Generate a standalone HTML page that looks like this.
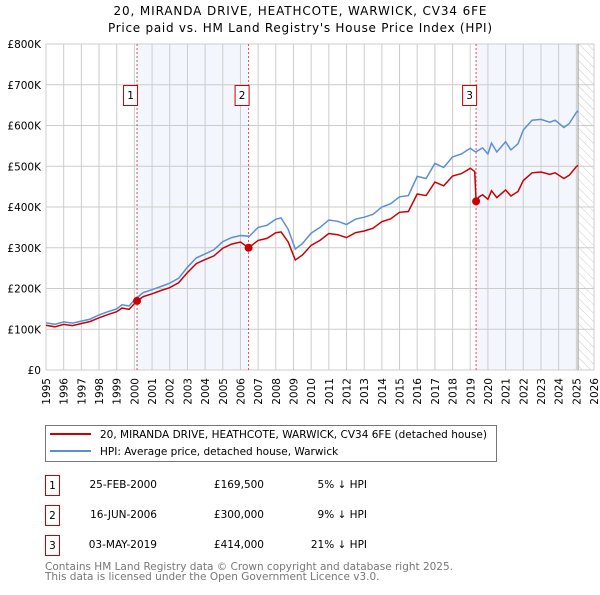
<!DOCTYPE html>
<html><head><meta charset="utf-8"><style>
body{margin:0;background:#fff;}
svg{font-family:"DejaVu Sans","Liberation Sans",sans-serif;}
</style></head><body>
<svg id="chart" width="600" height="590" xmlns="http://www.w3.org/2000/svg">
<defs><pattern id="hatch" width="6" height="6" patternUnits="userSpaceOnUse" patternTransform="rotate(-45)"><line x1="0" y1="0" x2="0" y2="6" stroke="#ccc" stroke-width="1"/></pattern></defs>
<text x="300" y="15" text-anchor="middle" font-size="12" textLength="373">20, MIRANDA DRIVE, HEATHCOTE, WARWICK, CV34 6FE</text>
<text x="300" y="32" text-anchor="middle" font-size="12" textLength="384">Price paid vs. HM Land Registry's House Price Index (HPI)</text>
<g id="plot"></g>
<rect x="45.5" y="425.5" width="451" height="36" fill="#fff" stroke="#777"/>
<line x1="50" y1="434" x2="91" y2="434" stroke="#cc0000" stroke-width="2"/>
<text x="100" y="438" font-size="10.5" textLength="387">20, MIRANDA DRIVE, HEATHCOTE, WARWICK, CV34 6FE (detached house)</text>
<line x1="50" y1="451" x2="91" y2="451" stroke="#5b8fd4" stroke-width="2"/>
<text x="100" y="455" font-size="10.5">HPI: Average price, detached house, Warwick</text>
<g font-size="10.5">
<rect x="45.5" y="475.5" width="14" height="20" fill="none" stroke="#cc0000"/><text x="52.5" y="489" text-anchor="middle">1</text>
<text x="157" y="488" text-anchor="end">25-FEB-2000</text><text x="264" y="488" text-anchor="end">£169,500</text><text x="367" y="488" text-anchor="end">5% ↓ HPI</text>
<rect x="45.5" y="505.5" width="14" height="20" fill="none" stroke="#cc0000"/><text x="52.5" y="519" text-anchor="middle">2</text>
<text x="157" y="518" text-anchor="end">16-JUN-2006</text><text x="264" y="518" text-anchor="end">£300,000</text><text x="367" y="518" text-anchor="end">9% ↓ HPI</text>
<rect x="45.5" y="535.5" width="14" height="20" fill="none" stroke="#cc0000"/><text x="52.5" y="549" text-anchor="middle">3</text>
<text x="157" y="548" text-anchor="end">03-MAY-2019</text><text x="264" y="548" text-anchor="end">£414,000</text><text x="367" y="548" text-anchor="end">21% ↓ HPI</text>
</g>
<text x="45" y="570" font-size="10.5" fill="#777" textLength="408">Contains HM Land Registry data © Crown copyright and database right 2025.</text>
<text x="45" y="580" font-size="10.5" fill="#777">This data is licensed under the Open Government Licence v3.0.</text>
</svg>
<script>
const yTicks=[0,100,200,300,400,500,600,700,800];
const yTickLabels=["£0","£100K","£200K","£300K","£400K","£500K","£600K","£700K","£800K"];
const xYears=[1995,1996,1997,1998,1999,2000,2001,2002,2003,2004,2005,2006,2007,2008,2009,2010,2011,2012,2013,2014,2015,2016,2017,2018,2019,2020,2021,2022,2023,2024,2025,2026];
const saleDates=[2000.15,2006.46,2019.33];
const salePrices=[169.5,300,414];
const saleLabels=["1","2","3"];
const hpiT=[1995,1995.5,1996,1996.5,1997,1997.5,1998,1998.5,1999,1999.3,1999.7,2000,2000.5,2001,2001.5,2002,2002.5,2003,2003.5,2004,2004.5,2005,2005.5,2006,2006.5,2007,2007.5,2008,2008.3,2008.7,2009.1,2009.5,2010,2010.5,2011,2011.5,2012,2012.5,2013,2013.5,2014,2014.5,2015,2015.5,2016,2016.5,2017,2017.5,2018,2018.5,2019,2019.3,2019.7,2020,2020.2,2020.5,2021,2021.3,2021.7,2022,2022.5,2023,2023.5,2023.8,2024.3,2024.6,2025,2025.1];
const hpiV=[116,112,118,115,120,125,135,143,150,160,157,172,190,197,205,213,225,252,275,285,295,315,325,330,328,350,355,370,373,345,297,310,336,350,368,365,357,370,375,382,400,408,425,428,475,470,507,497,523,530,544,535,545,530,557,535,560,540,555,589,613,615,608,613,595,605,632,636];
const propT=[1995,1995.5,1996,1996.5,1997,1997.5,1998,1998.5,1999,1999.3,1999.7,2000,2000.15,2000.5,2001,2001.5,2002,2002.5,2003,2003.5,2004,2004.5,2005,2005.5,2006,2006.46,2007,2007.5,2008,2008.3,2008.7,2009.1,2009.5,2010,2010.5,2011,2011.5,2012,2012.5,2013,2013.5,2014,2014.5,2015,2015.5,2016,2016.5,2017,2017.5,2018,2018.5,2019,2019.25,2019.33,2019.5,2019.7,2020,2020.2,2020.5,2021,2021.3,2021.7,2022,2022.5,2023,2023.5,2023.8,2024.3,2024.6,2025,2025.1];
const propV=[110,106,112,109,114,119,128,136,143,152,149,163,169.5,180,187,195,202,214,239,261,271,280,299,309,314,300,318,323,337,339,314,270,282,306,318,335,332,325,337,341,348,364,371,387,389,432,428,461,452,476,482,495,487,414,425,430,419,440,423,442,427,438,465,484,486,480,484,470,478,499,502];
const X0=46,X1=594,Y0=370,Y1=44;
const xs=t=>X0+(t-1995)/(2026-1995)*(X1-X0);
const ys=v=>Y0-v/800*(Y0-Y1);
const NS="http://www.w3.org/2000/svg";
const g=document.getElementById('plot');
function mk(tag,attrs){const e=document.createElementNS(NS,tag);for(const k in attrs)e.setAttribute(k,attrs[k]);g.appendChild(e);return e;}
let e;
e=mk('rect',{x:xs(saleDates[0]),y:Y1,width:xs(saleDates[1])-xs(saleDates[0]),height:Y0-Y1,fill:'#eef3fc',opacity:0.7});


e=mk('rect',{x:xs(saleDates[2]),y:Y1,width:xs(2025.1)-xs(saleDates[2]),height:Y0-Y1,fill:'#eef3fc',opacity:0.7});


e=mk('rect',{x:xs(2025.1),y:Y1,width:X1-xs(2025.1),height:Y0-Y1,fill:'url(#hatch)'});


xYears.forEach(y=>{e=mk('line',{x1:xs(y),x2:xs(y),y1:Y1,y2:Y0,stroke:'#ccc','stroke-width':1});


e=mk('text',{x:xs(y)+4,y:Y0+8,'font-size':10.5,'text-anchor':'end',transform:`rotate(-90 ${xs(y)+4} ${Y0+8})`});e.textContent=y;

});
yTicks.forEach((v,i)=>{e=mk('line',{x1:X0,x2:X1,y1:ys(v),y2:ys(v),stroke:'#ccc','stroke-width':1});


e=mk('text',{x:X0-5,y:ys(v)+4,'font-size':10.5,'text-anchor':'end'});e.textContent=yTickLabels[i];

});
e=mk('line',{x1:xs(2025.1),x2:xs(2025.1),y1:Y1,y2:Y0,stroke:'#999','stroke-width':1});


saleDates.forEach((d,i)=>{e=mk('line',{x1:xs(d),x2:xs(d),y1:Y1,y2:Y0,stroke:'#e05050','stroke-width':1,'stroke-dasharray':'2,2'});


e=mk('rect',{x:xs(d)-13.5,y:85.5,width:14,height:20,fill:'#fff',stroke:'#cc0000'});


e=mk('text',{x:xs(d)-6.5,y:99,'font-size':10.5,'text-anchor':'middle'});e.textContent=saleLabels[i];

});
e=mk('path',{d:hpiT.map((t,i)=>(i?'L':'M')+xs(t).toFixed(1)+','+ys(hpiV[i]).toFixed(1)).join(''),fill:'none',stroke:'#5b8fd4','stroke-width':1.5});


e=mk('path',{d:propT.map((t,i)=>(i?'L':'M')+xs(t).toFixed(1)+','+ys(propV[i]).toFixed(1)).join(''),fill:'none',stroke:'#cc0000','stroke-width':1.5});


saleDates.forEach((d,i)=>{e=mk('circle',{cx:xs(d),cy:ys(salePrices[i]),r:4,fill:'#cc0000'});

});
</script>
</body></html>
